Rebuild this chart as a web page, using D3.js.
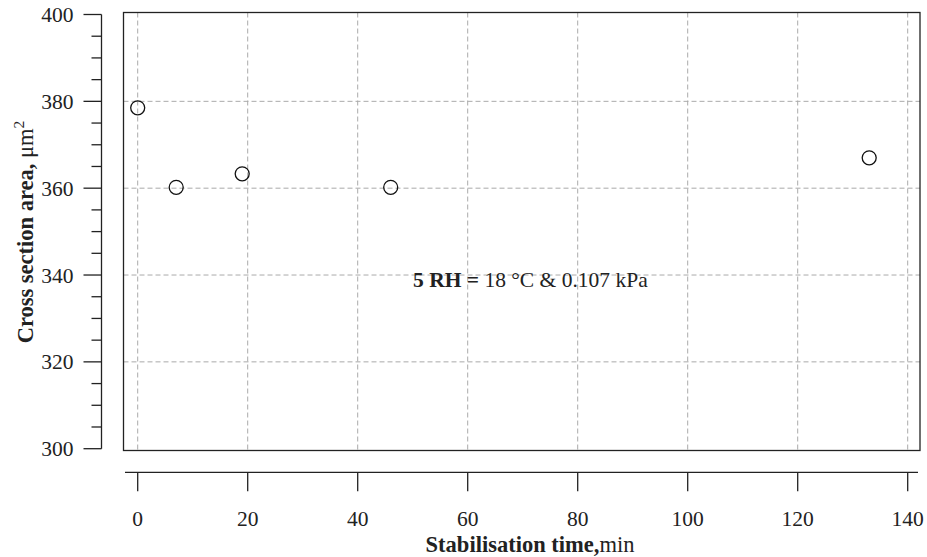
<!DOCTYPE html>
<html><head><meta charset="utf-8">
<script src="https://cdn.jsdelivr.net/npm/d3@7"></script>
<style>body{margin:0;background:#fff}svg{display:block}text{font-family:"Liberation Serif","DejaVu Serif",serif;fill:#222}</style>
</head><body>
<svg id="chart" width="927" height="557"></svg>
<script>
const timeMin = [0, 7, 19, 46, 133];
const areaUm2 = [378.5, 360.2, 363.3, 360.2, 367.0];
const xTicks = [0, 20, 40, 60, 80, 100, 120, 140];
const yTicks = [300, 320, 340, 360, 380, 400];
const yMinor = d3.range(300, 401, 5);

const svg = d3.select("#chart");
const x = d3.scaleLinear().domain([0, 140]).range([137.7, 907.7]);
const y = d3.scaleLinear().domain([300, 400]).range([448.7, 14.5]);
const box = {l: 123.5, t: 12.5, r: 920, b: 450.5};
const FS = 21.5;
const TS = 22.5;

// grid
const g = svg.append("g");
g.selectAll(".vg").data(xTicks).join("line")
  .attr("x1", d => x(d)).attr("x2", d => x(d)).attr("y1", box.t).attr("y2", box.b)
  .attr("stroke", "#aaa").attr("stroke-width", 1).attr("stroke-dasharray", "5,3");
g.selectAll(".hg").data(yTicks.filter(d => d > 300 && d < 400)).join("line")
  .attr("y1", d => y(d)).attr("y2", d => y(d)).attr("x1", box.l).attr("x2", box.r)
  .attr("stroke", "#aaa").attr("stroke-width", 1).attr("stroke-dasharray", "5,3");

// box
svg.append("rect").attr("x", box.l).attr("y", box.t).attr("width", box.r - box.l).attr("height", box.b - box.t)
  .attr("fill", "none").attr("stroke", "#222").attr("stroke-width", 1.3);

// y axis (detached)
const yAx = svg.append("g").attr("transform", "translate(101.5,0)");
yAx.append("line").attr("x1", 0).attr("x2", 0).attr("y1", y(400)).attr("y2", y(300)).attr("stroke", "#222").attr("stroke-width", 1.3);
yAx.selectAll(".mn").data(yMinor).join("line")
  .attr("x1", d => yTicks.includes(d) ? -18 : -10).attr("x2", 0)
  .attr("y1", d => y(d)).attr("y2", d => y(d)).attr("stroke", "#222").attr("stroke-width", 1.3);
yAx.selectAll(".lb").data(yTicks).join("text")
  .attr("x", -28).attr("y", d => y(d)).attr("dy", "0.35em").attr("text-anchor", "end")
  .attr("font-size", FS).text(d => d);

// x axis (detached)
const xAx = svg.append("g").attr("transform", "translate(0,472.3)");
xAx.append("line").attr("x1", 125).attr("x2", 918).attr("y1", 0).attr("y2", 0).attr("stroke", "#222").attr("stroke-width", 1.3);
xAx.selectAll(".tk").data(xTicks).join("line")
  .attr("x1", d => x(d)).attr("x2", d => x(d)).attr("y1", 0).attr("y2", 19).attr("stroke", "#222").attr("stroke-width", 1.3);
xAx.selectAll(".lb").data(xTicks).join("text")
  .attr("x", d => x(d)).attr("y", 53.5).attr("text-anchor", "middle")
  .attr("font-size", FS).text(d => d);

// points
svg.append("g").selectAll("circle").data(timeMin.map((t, i) => [t, areaUm2[i]])).join("circle")
  .attr("cx", d => x(d[0])).attr("cy", d => y(d[1])).attr("r", 7)
  .attr("fill", "none").attr("stroke", "#111").attr("stroke-width", 1.3);

// annotation
const ann = svg.append("text").attr("x", 413).attr("y", 287).attr("font-size", FS);
ann.append("tspan").attr("font-weight", "bold").text("5 RH = ");
ann.append("tspan").text("18 °C & 0.107 kPa");

// x title
const xt = svg.append("text").attr("x", 530).attr("y", 552).attr("text-anchor", "middle").attr("font-size", TS);
xt.append("tspan").attr("font-weight", "bold").text("Stabilisation time,");
xt.append("tspan").text("min");

// y title
const yt = svg.append("text").attr("transform", "translate(33,232) rotate(-90)").attr("text-anchor", "middle").attr("font-size", TS);
yt.append("tspan").attr("font-weight", "bold").text("Cross section area, ");
yt.append("tspan").text("μm");
yt.append("tspan").attr("font-size", 15.5).attr("dy", "-0.6em").text("2");
</script>
</body></html>
